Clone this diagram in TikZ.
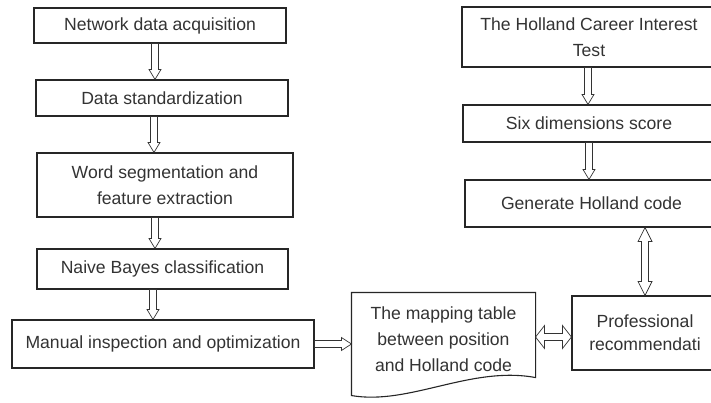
\documentclass[tikz,border=0pt]{standalone}
\usepackage{fontspec}
\setmainfont{Liberation Sans}
\usetikzlibrary{calc}
\tikzset{
  box/.style={draw=black!85, line width=1.1pt, text=black!80, align=center,
    inner sep=0pt, font=\fontsize{17.6}{26}\selectfont},
  rot/.style={shift={(\p1)}, rotate=\n1},
  % hollow block arrow, #1 = half head width, #2 = head length
  hollow/.style 2 args={draw=black!80, line width=0.7pt, to path={
    let \p1=(\tikztostart), \p2=(\tikztotarget),
        \n1={atan2(\y2-\y1,\x2-\x1)}, \n2={veclen(\x2-\x1,\y2-\y1)} in
    ([rot]0pt,-3.5pt) -- ([rot]{\n2*1pt-#2},-3.5pt) -- ([rot]{\n2*1pt-#2},-#1)
    -- ([rot]{\n2*1pt},0pt) -- ([rot]{\n2*1pt-#2},#1) -- ([rot]{\n2*1pt-#2},3.5pt)
    -- ([rot]0pt,3.5pt) -- cycle}},
  hollowboth/.style 2 args={draw=black!80, line width=0.7pt, to path={
    let \p1=(\tikztostart), \p2=(\tikztotarget),
        \n1={atan2(\y2-\y1,\x2-\x1)}, \n2={veclen(\x2-\x1,\y2-\y1)} in
    ([rot]#2,-3.5pt) -- ([rot]{\n2*1pt-#2},-3.5pt) -- ([rot]{\n2*1pt-#2},-#1)
    -- ([rot]{\n2*1pt},0pt) -- ([rot]{\n2*1pt-#2},#1) -- ([rot]{\n2*1pt-#2},3.5pt)
    -- ([rot]#2,3.5pt) -- ([rot]#2,#1) -- ([rot]0pt,0pt) -- ([rot]#2,-#1) -- cycle}}
}
\begin{document}
\begin{tikzpicture}[x=1pt, y=-1pt]
    \clip (0,0) rectangle (711,403);
    \fill[white] (0,0) rectangle (711,403);
    % left column
    \node[box, minimum width=252, minimum height=35] (net) at (160,25.5) {Network data acquisition};
    \node[box, minimum width=252, minimum height=36] (std) at (162,98) {Data standardization};
    \node[box, minimum width=256, minimum height=64] (word) at (165,185) {Word segmentation and\\feature extraction};
    \node[box, minimum width=251, minimum height=40] (bayes) at (162.5,269) {Naive Bayes classification};
    \node[box, minimum width=302, minimum height=48] (manual) at (163,344) {Manual inspection and optimization};
    \draw[hollow={6pt}{10pt}] ([xshift=-5pt]net.south) to ([xshift=-7pt]std.north);
    \draw[hollow={6pt}{10pt}] ([xshift=-8pt]std.south) to ([xshift=-11pt]word.north);
    \draw[hollow={6pt}{10pt}] ([xshift=-10pt]word.south) to ([xshift=-7.5pt]bayes.north);
    \draw[hollow={6pt}{10pt}] ([xshift=-9.5pt]bayes.south) to ([xshift=-10pt]manual.north);
    % mapping table
    \node[box, draw=none, minimum width=183, minimum height=92] (map) at (443.5,339)
      {The mapping table\\between position\\and Holland code};
    \draw[black!85, line width=1.1pt] (map.north west) -- (map.north east)
      -- ($(map.south east)+(0,-8)$)
      .. controls ($(map.south east)+(-65,-20)$) and ($(map.south west)+(58,20)$)
      .. ($(map.south west)+(0,10)$) -- cycle;
    \draw[hollow={6.5pt}{10pt}] (manual.east) to (manual.east -| map.west);
    % right column
    \node[box, minimum width=254, minimum height=60] (holl) at (589,37) {The Holland Career Interest\\Test};
    \node[box, minimum width=252, minimum height=37] (six) at (589,123.5) {Six dimensions score};
    \node[box, minimum width=253, minimum height=47] (gen) at (591.5,203.5) {Generate Holland code};
    \node[box, minimum width=146, minimum height=74, font=\fontsize{17.6}{23}\selectfont] (prof) at (645,333)
      {Professional\\recommendati};
    \draw[hollow={6pt}{10pt}] ([xshift=-1pt]holl.south) to ([xshift=-1pt]six.north);
    \draw[hollow={6pt}{10pt}] (six.south) to ([xshift=-2.5pt]gen.north);
    \draw[hollowboth={7pt}{14pt}] (prof.north |- gen.south) to (prof.north);
    \draw[hollowboth={11.5pt}{9pt}] ([yshift=2pt]map.east) to ([yshift=2pt]map.east -| prof.west);
\end{tikzpicture}
\end{document}
